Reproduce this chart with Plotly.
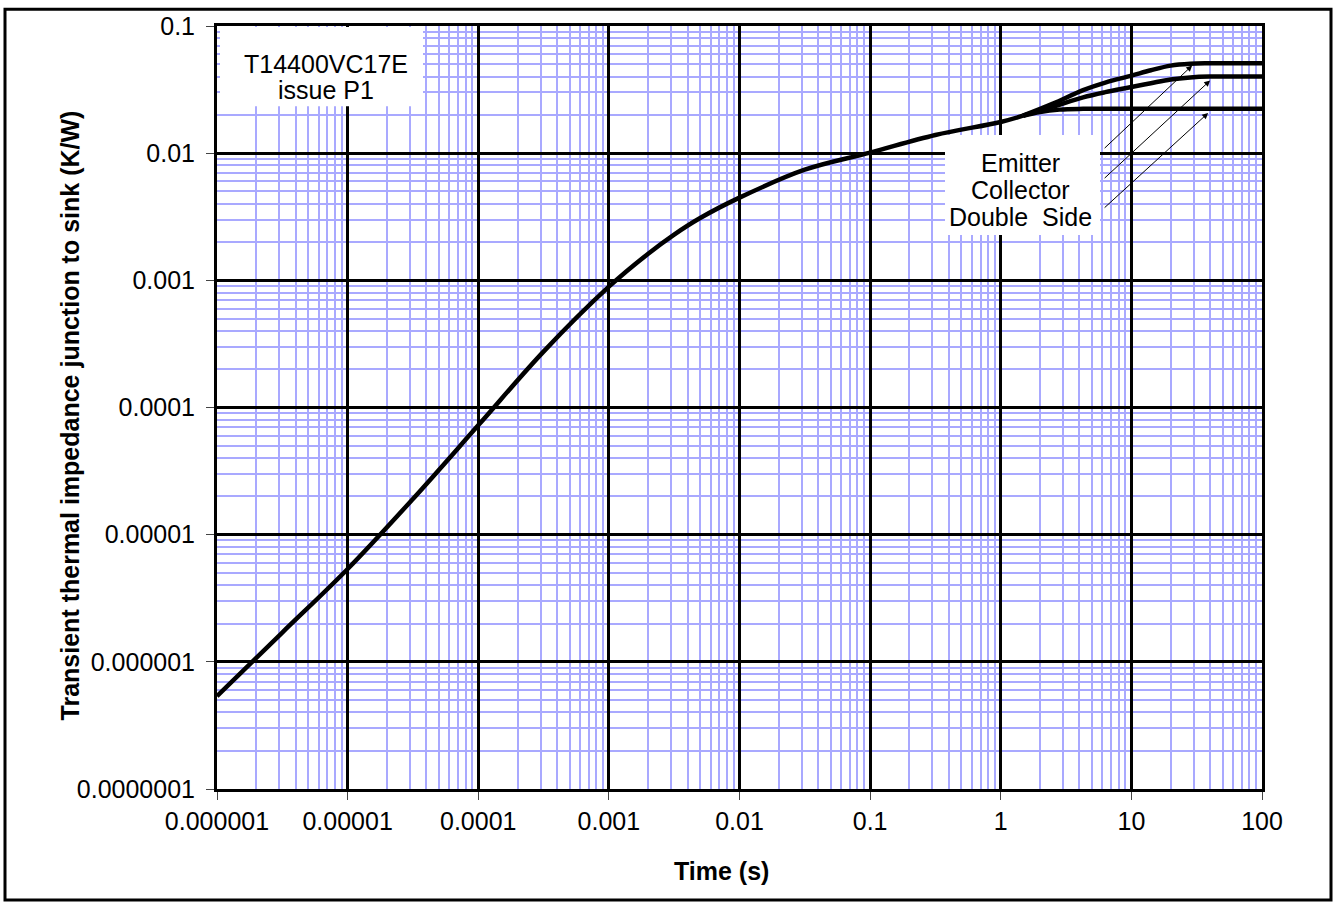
import math
import plotly.graph_objects as go

# ---- data ----
time_main = [1e-6, 3.16e-6, 1e-5, 3.16e-5, 1e-4, 3.16e-4, 1e-3, 2.0e-3, 3.16e-3, 5.0e-3,
             1e-2, 3.16e-2, 0.1, 0.316, 1.0, 1.48]
z_main = [5.37e-7, 1.70e-6, 5.37e-6, 1.91e-5, 7.24e-5, 2.75e-4, 8.91e-4, 1.62e-3, 2.29e-3, 3.09e-3,
          4.47e-3, 7.41e-3, 1.01e-2, 1.39e-2, 1.76e-2, 1.97e-2]

time_emitter = [1.48, 2.51, 4.27, 6.31, 10, 14.1, 20, 28.2, 39.8, 100]
z_emitter = [0.0197, 0.0245, 0.0313, 0.0359, 0.0407, 0.0449, 0.0488, 0.0505, 0.0509, 0.0509]
time_collector = [1.48, 2.51, 4.27, 6.31, 10, 14.1, 20, 28.2, 39.8, 100]
z_collector = [0.0197, 0.0232, 0.0275, 0.0302, 0.0331, 0.0355, 0.0380, 0.0394, 0.0400, 0.0401]
time_double = [1.48, 2.0, 2.82, 4.27, 10, 100]
z_double = [0.0197, 0.0211, 0.0220, 0.0223, 0.0224, 0.0224]

x_ticks = [1e-6, 1e-5, 1e-4, 1e-3, 1e-2, 1e-1, 1, 10, 100]
x_ticktext = ["0.000001", "0.00001", "0.0001", "0.001", "0.01", "0.1", "1", "10", "100"]
y_ticks = [1e-7, 1e-6, 1e-5, 1e-4, 1e-3, 1e-2, 1e-1]
y_ticktext = ["0.0000001", "0.000001", "0.00001", "0.0001", "0.001", "0.01", "0.1"]

series_names = ["Emitter", "Collector", "Double\u00a0 Side"]
# where each label's arrow points (on its curve)
arrow_heads = [(29.2, 0.0489), (40.1, 0.0373), (38.7, 0.0207)]
device_label = ["T14400VC17E", "issue P1"]
x_title = "Time (s)"
y_title = "Transient thermal impedance junction to sink (K/W)"

FONT = "Liberation Sans, Arial, sans-serif"
TXT = 25

# ---- layout geometry ----
W, H = 1338, 902
L, R, T, B = 217, 76, 19, 113
pw, ph = W - L - R, H - T - B
XR = [-6, 2]
YR = [-7, -1]


def px_to_paper(px, py):
    return (px - L) / pw, (H - B - py) / ph


def px_to_data(px, py):
    xp, yp = px_to_paper(px, py)
    lx = XR[0] + xp * (XR[1] - XR[0])
    ly = YR[0] + yp * (YR[1] - YR[0])
    return 10 ** lx, 10 ** ly


def minor_vals(decades):
    vals = []
    for d in decades[:-1]:
        for m in range(2, 10):
            vals.append(d * m)
    return vals


fig = go.Figure()
line_style = dict(color="black", width=4.5, shape="spline", smoothing=1.0)
fig.add_trace(go.Scatter(x=time_main, y=z_main, mode="lines", line=line_style,
                         showlegend=False, hoverinfo="skip"))
for name, tt, zz in zip(series_names,
                        [time_emitter, time_collector, time_double],
                        [z_emitter, z_collector, z_double]):
    fig.add_trace(go.Scatter(x=tt, y=zz, mode="lines", line=line_style,
                             name=name, showlegend=False, hoverinfo="skip"))

axis_common = dict(
    type="log",
    showline=True, linecolor="black", linewidth=3, mirror=True,
    showgrid=True, gridcolor="black", gridwidth=3,
    ticks="outside", ticklen=8, tickwidth=1, tickcolor="#444",
    tickfont=dict(family=FONT, size=TXT, color="black"),
    ticklabeloverflow="allow",
    zeroline=False,
)

fig.update_xaxes(
    range=XR, tickvals=x_ticks, ticktext=x_ticktext,
    minor=dict(tickvals=minor_vals(x_ticks), showgrid=True,
               gridcolor="#a9a9ff", gridwidth=1.5, ticks=""),
    **axis_common)
fig.update_yaxes(
    range=YR, tickvals=y_ticks, ticktext=y_ticktext,
    minor=dict(tickvals=minor_vals(y_ticks), showgrid=True,
               gridcolor="#a9a9ff", gridwidth=1.5, ticks=""),
    ticklabelstandoff=6,
    **axis_common)

shapes = []
# outer frame around the whole figure
fx0, fy0 = px_to_paper(5, 901)
fx1, fy1 = px_to_paper(1331, 2)
shapes.append(dict(type="rect", xref="paper", yref="paper", x0=fx0, y0=fy0, x1=fx1, y1=fy1,
                   line=dict(color="black", width=3), fillcolor="rgba(0,0,0,0)", layer="above"))
# white label boxes (above gridlines, below curves)
for (a, b, c, d) in [(220, 20, 423, 100), (945, 129, 1100, 230)]:
    x0, y1 = px_to_data(a, b)
    x1, y0 = px_to_data(c, d)
    shapes.append(dict(type="rect", xref="x", yref="y", x0=x0, y0=y0, x1=x1, y1=y1,
                       line=dict(width=0), fillcolor="white", layer="between"))

annotations = []
for txt, py in zip(device_label, [57, 84]):
    ax_, ay_ = px_to_paper(326, py)
    annotations.append(dict(text=txt, xref="paper", yref="paper", x=ax_, y=ay_,
                            showarrow=False, xanchor="center", yanchor="middle",
                            font=dict(family=FONT, size=TXT, color="black")))
for txt, py in zip(series_names, [157, 184, 212]):
    ax_, ay_ = px_to_paper(1020, py)
    annotations.append(dict(text=txt, xref="paper", yref="paper", x=ax_, y=ay_,
                            showarrow=False, xanchor="center", yanchor="middle",
                            font=dict(family=FONT, size=TXT, color="black")))
arrow_tails = [(-89, 84), (-107, 99), (-105, 96)]
for (hx, hy), (tx, ty) in zip(arrow_heads, arrow_tails):
    annotations.append(dict(x=math.log10(hx), y=math.log10(hy), xref="x", yref="y",
                            ax=tx, ay=ty, text="", showarrow=True,
                            arrowhead=2, arrowsize=1.2, arrowwidth=1, arrowcolor="black",
                            standoff=0))
tx_, ty_ = px_to_paper(721, 872)
annotations.append(dict(text="<b>" + x_title + "</b>", xref="paper", yref="paper",
                        x=tx_, y=ty_, showarrow=False, xanchor="center", yanchor="middle",
                        font=dict(family=FONT, size=TXT, color="black")))
tx_, ty_ = px_to_paper(70, 412)
annotations.append(dict(text="<b>" + y_title + "</b>", xref="paper", yref="paper",
                        x=tx_, y=ty_, showarrow=False, xanchor="center", yanchor="middle",
                        textangle=-90,
                        font=dict(family=FONT, size=TXT, color="black")))

fig.update_layout(
    width=W, height=H,
    margin=dict(l=L, r=R, t=T, b=B, pad=0),
    paper_bgcolor="white", plot_bgcolor="white",
    shapes=shapes, annotations=annotations,
    font=dict(family=FONT, color="black"),
)

post = ("document.documentElement.style.margin='0';document.body.style.margin='0';"
        "document.body.style.padding='0';document.body.style.overflow='hidden';"
        "var gd=document.getElementById('{plot_id}');"
        "gd.style.position='fixed';gd.style.left='0px';gd.style.top='0px';")
fig.write_html("out.html", config={"displayModeBar": False}, post_script=post)
